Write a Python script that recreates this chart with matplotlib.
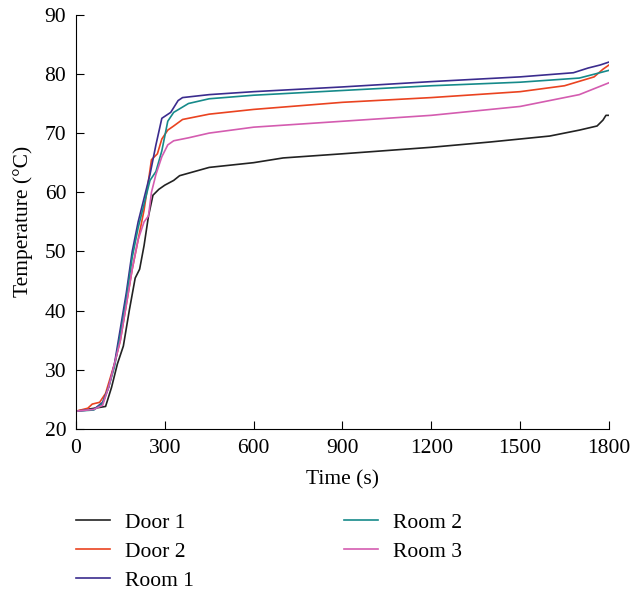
import matplotlib
matplotlib.use("Agg")
import matplotlib.pyplot as plt

plt.rcParams['font.family'] = ['Liberation Serif', 'DejaVu Serif']

# time (s) / temperature (deg C)
door1_t = [0, 100, 120, 140, 160, 180, 200, 215, 230, 245, 260, 280, 300, 330, 350, 400, 450, 600, 700, 900, 1200, 1400, 1600, 1700, 1760, 1780, 1790, 1800]
door1_T = [23, 23.8, 27, 31, 34, 40, 45.5, 47, 51, 56, 59.5, 60.5, 61.2, 62, 62.8, 63.5, 64.2, 65, 65.8, 66.5, 67.6, 68.5, 69.5, 70.5, 71.2, 72.2, 73, 73]

door2_t = [0, 40, 55, 80, 100, 130, 150, 170, 190, 210, 230, 245, 255, 275, 290, 310, 330, 360, 450, 600, 900, 1200, 1500, 1650, 1750, 1780, 1800]
door2_T = [23, 23.5, 24.2, 24.5, 26, 31, 35, 41, 47, 52, 57, 62, 65.5, 66.5, 69, 70.5, 71.2, 72.3, 73.2, 74, 75.2, 76, 77, 78, 79.5, 80.8, 81.5]

room1_t = [0, 60, 90, 110, 130, 150, 170, 190, 210, 230, 250, 270, 290, 320, 345, 360, 450, 600, 900, 1200, 1500, 1680, 1730, 1770, 1800]
room1_T = [23, 23.3, 24.5, 27, 31, 37, 43, 50, 55, 59, 63, 68, 72.5, 73.5, 75.5, 76, 76.5, 77, 77.8, 78.7, 79.5, 80.2, 81, 81.5, 82]

room2_t = [0, 60, 90, 110, 130, 150, 170, 190, 210, 230, 250, 270, 290, 310, 330, 380, 450, 600, 900, 1200, 1500, 1700, 1800]
room2_T = [23, 23.2, 24.3, 27, 30.5, 36, 42, 49, 54, 58, 62, 63.5, 67, 72, 73.5, 75, 75.8, 76.4, 77.2, 78, 78.6, 79.3, 80.6]

room3_t = [0, 60, 90, 110, 130, 150, 170, 190, 210, 230, 245, 255, 270, 290, 310, 330, 380, 450, 600, 900, 1200, 1500, 1650, 1700, 1750, 1790, 1800]
room3_T = [23, 23.3, 24, 27, 31, 35, 41, 47, 52, 55, 56, 60, 63, 66, 68, 68.7, 69.2, 70, 71, 72, 73, 74.5, 76, 76.5, 77.5, 78.3, 78.5]

labels = ["Door 1", "Door 2", "Room 1", "Room 2", "Room 3"]
colors = ["#222222", "#ea4320", "#3b2c8e", "#168a8a", "#d45cb0"]
series = [(door1_t, door1_T), (door2_t, door2_T), (room1_t, room1_T),
          (room2_t, room2_T), (room3_t, room3_T)]

fs = 15.5

fig = plt.figure(figsize=(6.31, 5.9), dpi=100)
ax = fig.add_axes([0.1204, 0.273, 0.8446, 0.702])

for (t, T), lab, c in zip(series, labels, colors):
    ax.plot(t, T, color=c, lw=1.2, label=lab)

ax.set_xlim(0, 1800)
ax.set_ylim(20, 90)
ax.set_xticks([0, 300, 600, 900, 1200, 1500, 1800])
ax.set_yticks(range(20, 91, 10))
ax.spines['top'].set_visible(False)
ax.spines['right'].set_visible(False)
ax.tick_params(direction='in', labelsize=fs, length=6, pad=7)
ax.set_xlabel("Time (s)", fontsize=fs, labelpad=9)
ax.set_ylabel("Temperature (°C)", fontsize=fs, labelpad=8)

fig.legend(loc='upper left', bbox_to_anchor=(0.12, 0.131), ncol=2, frameon=False,
           fontsize=fs, handlelength=1.6, handletextpad=0.7, labelspacing=0.42,
           columnspacing=6.95, borderpad=0, borderaxespad=0,
           bbox_transform=fig.transFigure)

fig.savefig("out.png", dpi=100)
